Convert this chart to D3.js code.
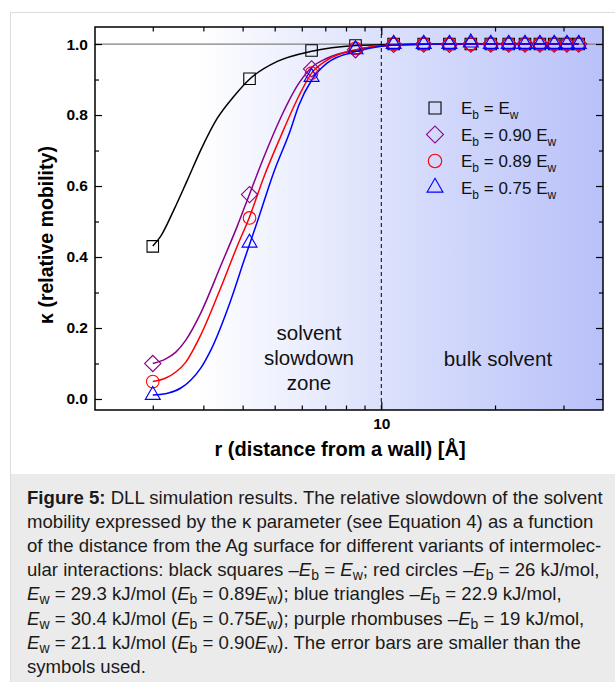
<!DOCTYPE html>
<html>
<head>
<meta charset="utf-8">
<script src="https://cdn.jsdelivr.net/npm/d3@7"></script>
<style>
  body { margin: 0; background: #fff; }
  svg { display: block; font-family: "Liberation Sans", Arial, sans-serif; }
</style>
</head>
<body>
<div id="chart"></div>
<script>
// distances from the wall [Å]
const rValues = [2.0, 4.2, 6.4, 8.5, 10.8, 13.0, 15.2, 17.3, 19.5, 21.7, 23.9, 26.1, 28.4, 30.6, 32.8];

// kappa values for each variant
const kBlack  = [0.430, 0.902, 0.982, 0.996, 1.000, 1.000, 1.000, 1.000, 1.000, 1.000, 1.000, 1.000, 1.000, 1.000, 1.000];
const kPurple = [0.100, 0.576, 0.930, 0.984, 0.999, 1.000, 0.999, 1.000, 1.000, 1.000, 1.000, 1.000, 1.000, 1.000, 1.000];
const kRed    = [0.049, 0.510, 0.918, 0.988, 1.000, 1.000, 1.000, 1.000, 1.000, 1.000, 1.000, 1.000, 1.000, 1.000, 1.000];
const kBlue   = [0.011, 0.440, 0.907, 0.985, 1.000, 1.000, 1.000, 1.004, 1.000, 1.000, 1.000, 1.000, 1.000, 1.000, 1.000];

// fitted curves
const fitBlackR  = [2.0, 2.14, 2.38, 2.65, 2.94, 3.33, 3.76, 4.2, 5.09, 6.35, 8.5, 10.8, 15.2, 32.8];
const fitBlackK  = [0.431, 0.459, 0.532, 0.616, 0.701, 0.791, 0.853, 0.901, 0.951, 0.979, 0.996, 0.999, 1.0, 1.0];
const fitPurpleR = [2.0, 2.23, 2.42, 2.62, 2.94, 3.41, 3.85, 4.2, 4.64, 5.2, 5.88, 6.4, 7.08, 8.6, 10.0, 12.0, 15.2, 32.8];
const fitPurpleK = [0.100, 0.113, 0.132, 0.166, 0.242, 0.374, 0.487, 0.577, 0.681, 0.791, 0.889, 0.934, 0.96, 0.984, 0.995, 0.999, 1.0, 1.0];
const fitRedR    = [2.0, 2.23, 2.42, 2.62, 2.94, 3.41, 3.85, 4.2, 4.64, 5.2, 5.88, 6.4, 7.08, 8.6, 10.0, 12.0, 15.2, 32.8];
const fitRedK    = [0.049, 0.059, 0.076, 0.104, 0.180, 0.312, 0.431, 0.513, 0.625, 0.738, 0.853, 0.918, 0.955, 0.985, 0.995, 0.999, 1.0, 1.0];
const fitBlueR   = [2.0, 2.28, 2.52, 2.72, 2.94, 3.17, 3.67, 4.04, 4.43, 4.97, 5.56, 5.88, 6.4, 7.08, 8.6, 10.0, 12.0, 15.2, 32.8];
const fitBlueK   = [0.011, 0.017, 0.031, 0.053, 0.087, 0.137, 0.277, 0.39, 0.498, 0.639, 0.757, 0.827, 0.898, 0.946, 0.98, 0.994, 0.999, 1.0, 1.0];

// ticks
const xMajorTicks = [10];
const xMinorTicks = [2, 3, 4, 5, 6, 7, 8, 9, 20, 30];
const yMajorTicks = [0, 0.2, 0.4, 0.6, 0.8, 1.0];
const yMinorTicks = [0.1, 0.3, 0.5, 0.7, 0.9];

const legendLabels = ["", "0.90 ", "0.89 ", "0.75 "];
const seriesColors = ["#000000", "#880088", "#ff0000", "#0000ff"];

const width = 615, height = 682;
const plot = { left: 95, right: 603, top: 27, bottom: 410 };

const svg = d3.select("#chart").append("svg")
    .attr("width", width)
    .attr("height", height);

// figure frame + caption box
svg.append("rect")
    .attr("x", 10.5).attr("y", 12.5)
    .attr("width", 640).attr("height", 700)
    .attr("fill", "none").attr("stroke", "#dcdcdc");
svg.append("rect")
    .attr("x", 11).attr("y", 474)
    .attr("width", 604).attr("height", 208)
    .attr("fill", "#ebebeb");

const x = d3.scaleSymlog().constant(1).domain([1.16, 37.8]).range([plot.left, plot.right]);
const y = d3.scaleLinear().domain([-0.031, 1.048]).range([plot.bottom, plot.top]);

// background gradient
const defs = svg.append("defs");
const grad = defs.append("linearGradient").attr("id", "bg")
    .attr("x1", "0%").attr("x2", "100%").attr("y1", "0%").attr("y2", "0%");
grad.append("stop").attr("offset", "0%").attr("stop-color", "#ffffff");
grad.append("stop").attr("offset", "20%").attr("stop-color", "#ffffff");
grad.append("stop").attr("offset", "55%").attr("stop-color", "#dde2fc");
grad.append("stop").attr("offset", "100%").attr("stop-color", "#b9c1f9");

svg.append("rect")
    .attr("x", plot.left).attr("y", plot.top)
    .attr("width", plot.right - plot.left).attr("height", plot.bottom - plot.top)
    .attr("fill", "url(#bg)");

// reference lines
svg.append("line")
    .attr("x1", plot.left).attr("x2", plot.right)
    .attr("y1", y(1)).attr("y2", y(1))
    .attr("stroke", "#808080").attr("stroke-width", 1.2);
svg.append("line")
    .attr("x1", x(10)).attr("x2", x(10))
    .attr("y1", plot.top).attr("y2", plot.bottom)
    .attr("stroke", "#000").attr("stroke-width", 1)
    .attr("stroke-dasharray", "4,3");

// zone labels
const zone = svg.append("text")
    .attr("text-anchor", "middle")
    .attr("font-size", 20.5)
    .attr("fill", "#111");
["solvent", "slowdown", "zone"].forEach((t, i) => {
    zone.append("tspan").attr("x", 309).attr("y", 340 + i * 25).text(t);
});
svg.append("text")
    .attr("x", 498).attr("y", 366)
    .attr("text-anchor", "middle")
    .attr("font-size", 20.5)
    .attr("fill", "#111")
    .text("bulk solvent");

// axes (ticks point inwards)
function styleAxis(g) {
    g.select(".domain").remove();
    g.selectAll("line").attr("stroke", "#000").attr("stroke-width", 1.2);
    g.selectAll("text")
        .attr("font-family", "Liberation Sans, Arial, sans-serif")
        .attr("font-weight", "bold")
        .attr("font-size", 15.5)
        .attr("fill", "#000");
}

const xAxisMajor = d3.axisBottom(x).tickValues(xMajorTicks).tickSizeInner(-8).tickSizeOuter(0).tickPadding(8).tickFormat(d3.format("d"));
const xAxisMinor = d3.axisBottom(x).tickValues(xMinorTicks).tickSizeInner(-4.5).tickSizeOuter(0).tickFormat("");
const xTopMajor = d3.axisTop(x).tickValues(xMajorTicks).tickSizeInner(-8).tickSizeOuter(0).tickFormat("");
const xTopMinor = d3.axisTop(x).tickValues(xMinorTicks).tickSizeInner(-4.5).tickSizeOuter(0).tickFormat("");
const yAxisMajor = d3.axisLeft(y).tickValues(yMajorTicks).tickSizeInner(-7).tickSizeOuter(0).tickPadding(7).tickFormat(d3.format(".1f"));
const yAxisMinor = d3.axisLeft(y).tickValues(yMinorTicks).tickSizeInner(-4).tickSizeOuter(0).tickFormat("");
const yRightMajor = d3.axisRight(y).tickValues(yMajorTicks).tickSizeInner(-7).tickSizeOuter(0).tickFormat("");
const yRightMinor = d3.axisRight(y).tickValues(yMinorTicks).tickSizeInner(-4).tickSizeOuter(0).tickFormat("");

svg.append("g").attr("transform", `translate(0,${plot.bottom})`).call(xAxisMajor).call(styleAxis);
svg.append("g").attr("transform", `translate(0,${plot.bottom})`).call(xAxisMinor).call(styleAxis);
svg.append("g").attr("transform", `translate(0,${plot.top})`).call(xTopMajor).call(styleAxis);
svg.append("g").attr("transform", `translate(0,${plot.top})`).call(xTopMinor).call(styleAxis);
svg.append("g").attr("transform", `translate(${plot.left},0)`).call(yAxisMajor).call(styleAxis);
svg.append("g").attr("transform", `translate(${plot.left},0)`).call(yAxisMinor).call(styleAxis);
svg.append("g").attr("transform", `translate(${plot.right},0)`).call(yRightMajor).call(styleAxis);
svg.append("g").attr("transform", `translate(${plot.right},0)`).call(yRightMinor).call(styleAxis);

// frame
svg.append("rect")
    .attr("x", plot.left).attr("y", plot.top)
    .attr("width", plot.right - plot.left).attr("height", plot.bottom - plot.top)
    .attr("fill", "none").attr("stroke", "#000").attr("stroke-width", 1.5);

// axis titles
svg.append("text")
    .attr("transform", "rotate(-90)")
    .attr("x", -235).attr("y", 53)
    .attr("text-anchor", "middle")
    .attr("font-weight", "bold")
    .attr("font-size", 19.5)
    .text("\u03ba (relative mobility)");
svg.append("text")
    .attr("x", 340).attr("y", 456)
    .attr("text-anchor", "middle")
    .attr("font-weight", "bold")
    .attr("font-size", 20)
    .text("r (distance from a wall) [\u00c5]");

// fitted curves
const line = d3.line()
    .x(d => x(d[0]))
    .y(d => y(d[1]))
    .curve(d3.curveMonotoneX);

const fits = [
    [fitBlackR, fitBlackK],
    [fitPurpleR, fitPurpleK],
    [fitRedR, fitRedK],
    [fitBlueR, fitBlueK]
];
fits.forEach((f, i) => {
    svg.append("path")
        .datum(f[0].map((r, j) => [r, f[1][j]]))
        .attr("d", line)
        .attr("fill", "none")
        .attr("stroke", seriesColors[i])
        .attr("stroke-width", 1.5);
});

// markers
function markerPath(kind, s) {
    if (kind === 0) return d3.symbol(d3.symbolSquare, s.sq * s.sq)();
    if (kind === 1) return d3.symbol(d3.symbolSquare, s.dm * s.dm)();
    if (kind === 2) return d3.symbol(d3.symbolCircle, Math.PI * s.ci * s.ci)();
    return d3.symbol(d3.symbolTriangle, s.tr * s.tr * Math.sqrt(3) / 4)();
}
const plotSizes = { sq: 11.5, dm: 11.5, ci: 6.3, tr: 15 };
const legendSizes = { sq: 12, dm: 12, ci: 6.7, tr: 16 };

const series = [kBlack, kPurple, kRed, kBlue];
series.forEach((vals, i) => {
    svg.append("g").selectAll("path")
        .data(rValues.map((r, j) => [r, vals[j]]))
        .join("path")
        .attr("d", markerPath(i, plotSizes))
        .attr("transform", d => `translate(${x(d[0])},${y(d[1])})` + (i === 1 ? " rotate(45)" : ""))
        .attr("fill", "none")
        .attr("stroke", seriesColors[i])
        .attr("stroke-width", 1.1);
});

// legend
const legendRows = [108, 134.5, 161, 187.5];
legendRows.forEach((ly, i) => {
    svg.append("path")
        .attr("d", markerPath(i, legendSizes))
        .attr("transform", `translate(435,${ly})` + (i === 1 ? " rotate(45)" : ""))
        .attr("fill", "none")
        .attr("stroke", seriesColors[i])
        .attr("stroke-width", 1.1);
    const t = svg.append("text")
        .attr("x", 461).attr("y", ly + 6)
        .attr("font-size", 17)
        .attr("fill", "#111");
    t.append("tspan").text("E");
    t.append("tspan").attr("font-size", 12).attr("dy", 5).text("b");
    t.append("tspan").attr("dy", -5).text(" = " + legendLabels[i] + "E");
    t.append("tspan").attr("font-size", 12).attr("dy", 5).text("w");
});

// caption: each line is a list of [text, style] pieces
// style: "" normal, "b" bold, "i" italic, "s" subscript
const captionLines = [
    [["Figure 5:", "b"], [" DLL simulation results. The relative slowdown of the solvent", ""]],
    [["mobility expressed by the \u03ba parameter (see Equation 4) as a function", ""]],
    [["of the distance from the Ag surface for different variants of intermolec-", ""]],
    [["ular interactions: black squares \u2013", ""], ["E", "i"], ["b", "s"], [" = ", ""], ["E", "i"], ["w", "s"], ["; red circles \u2013", ""], ["E", "i"], ["b", "s"], [" = 26 kJ/mol,", ""]],
    [["E", "i"], ["w", "s"], [" = 29.3 kJ/mol (", ""], ["E", "i"], ["b", "s"], [" = 0.89", ""], ["E", "i"], ["w", "s"], ["); blue triangles \u2013", ""], ["E", "i"], ["b", "s"], [" = 22.9 kJ/mol,", ""]],
    [["E", "i"], ["w", "s"], [" = 30.4 kJ/mol (", ""], ["E", "i"], ["b", "s"], [" = 0.75", ""], ["E", "i"], ["w", "s"], ["); purple rhombuses \u2013", ""], ["E", "i"], ["b", "s"], [" = 19 kJ/mol,", ""]],
    [["E", "i"], ["w", "s"], [" = 21.1 kJ/mol (", ""], ["E", "i"], ["b", "s"], [" = 0.90", ""], ["E", "i"], ["w", "s"], ["). The error bars are smaller than the", ""]],
    [["symbols used.", ""]]
];

captionLines.forEach((pieces, i) => {
    const t = svg.append("text")
        .attr("x", 27).attr("y", 504 + i * 24.1)
        .attr("font-size", 18.6)
        .attr("fill", "#1a1a1a");
    let down = false;
    pieces.forEach(p => {
        const ts = t.append("tspan").text(p[0]);
        if (p[1] === "b") ts.attr("font-weight", "bold");
        if (p[1] === "i") ts.attr("font-style", "italic");
        if (p[1] === "s") {
            ts.attr("font-size", 14).attr("dy", 4);
            down = true;
        } else if (down) {
            ts.attr("dy", -4);
            down = false;
        }
    });
});
</script>
</body>
</html>
